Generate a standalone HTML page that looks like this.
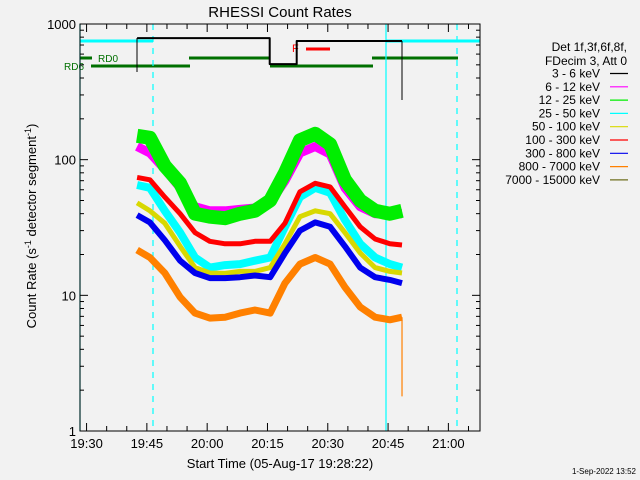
<!DOCTYPE html>
<html><head><meta charset="utf-8"><style>
html,body{margin:0;padding:0;background:#f2f2f2}
svg{display:block;font-family:"Liberation Sans",sans-serif}
</style></head><body>
<svg id="chart" width="640" height="480" viewBox="0 0 640 480">
<rect width="640" height="480" fill="#f2f2f2"/>
<text x="280" y="17" font-size="15" text-anchor="middle">RHESSI Count Rates</text>
<text transform="translate(36,226) rotate(-90)" font-size="13" text-anchor="middle">Count Rate (s<tspan font-size="9" dy="-5">-1</tspan><tspan dy="5"> detector segment</tspan><tspan font-size="9" dy="-5">-1</tspan><tspan dy="5">)</tspan></text>
<text x="280" y="468" font-size="13" text-anchor="middle">Start Time (05-Aug-17 19:28:22)</text>
<text x="636" y="474" font-size="8" text-anchor="end">1-Sep-2022 13:52</text>
<g id="plot"></g>
<g id="axes"></g>
<g id="legend"></g>
</svg>
<script>
// minutes since 19:28:22
const times = [14.2,17.4,21.1,24.9,28.6,32.3,36.1,39.8,43.5,47.3,51.0,54.7,58.5,62.2,65.9,69.7,73.4,77.1,80.1];
const magenta = [125,112,85,62,45,42,42,43,44,48,70,112,125,110,62,45,40,40,40];
const green = [150,145,90,67,40,38,37,40,42,50,80,139,155,130,71,50,42,40,42];
const cyan = [65,62,42,29,19,16,16.7,17,18,19,32,53,62,57,36,24,19,17,16];
const yellow = [48,42,34,23,16,14.6,14.5,15,15,16,24,38,42,40,29,20.5,16,15,14.6];
const red = [74,71,53,40,29,25,24,24,25,25,34,58,67,63,45,32,26,24,23.5];
const blue = [39,34.5,25.5,18,14.6,13.4,13.4,13.6,14,13.6,20.5,30,34.5,32,23,16,13.6,13,12.3];
const orange = [21.6,19,14.6,9.7,7.4,6.8,6.9,7.4,7.8,7.4,12.3,17,19,17,11.5,8.2,6.9,6.6,6.9];
const blackTimes = [14.2,47.2,47.2,53.9,53.9,80.1];
const blackVals = [787,787,506,506,750,750];
const xTickLabels = ["19:30","19:45","20:00","20:15","20:30","20:45","21:00"];
const xTickMinutes = [1.633,16.633,31.633,46.633,61.633,76.633,91.633];
const yTickVals = [1,10,100,1000];
const yTickLabels = ["1","10","100","1000"];
const legendLabels = ["3 - 6 keV","6 - 12 keV","12 - 25 keV","25 - 50 keV","50 - 100 keV","100 - 300 keV","300 - 800 keV","800 - 7000 keV","7000 - 15000 keV"];
const legendColors = ["#000000","#ff00ff","#00ee00","#00ffff","#d8d800","#ff0000","#0000ee","#ff8000","#707020"];

const X0=80,X1=480,Y0=24,Y1=431,TMAX=99.5;
const NS="http://www.w3.org/2000/svg";
function xs(t){return X0+(X1-X0)*t/TMAX;}
function ys(v){return Y1-(Y1-Y0)*Math.log10(v)/3;}
function mk(tag,attrs,parent){const e=document.createElementNS(NS,tag);for(const k in attrs)e.setAttribute(k,attrs[k]);parent.appendChild(e);return e;}
const plot=document.getElementById('plot'),axes=document.getElementById('axes'),legend=document.getElementById('legend');

// instrument state lines
let e;
e=mk('line',{x1:80,y1:41,x2:153,y2:41,stroke:'#00ffff','stroke-width':3},plot);


e=mk('line',{x1:386,y1:41,x2:480,y2:41,stroke:'#00ffff','stroke-width':3},plot);


[[80,92,58],[189,270,58],[372,458,58],[91,190,66],[270,373,66]].forEach(s=>{
  const l=mk('line',{x1:s[0],y1:s[2],x2:s[1],y2:s[2],stroke:'#007000','stroke-width':3},plot);
  
  
});
e=mk('text',{x:98,y:62,'font-size':10,fill:'#007000'},plot);e.textContent='RD0';


e=mk('text',{x:64,y:70,'font-size':10,fill:'#007000'},plot);e.textContent='RD6';


e=mk('text',{x:292,y:52,'font-size':11,fill:'#ff0000'},plot);e.textContent='F';


e=mk('line',{x1:306,y1:49,x2:330,y2:49,stroke:'#ff0000','stroke-width':3},plot);



// vertical markers
[[80,false],[386,false],[153,true],[457,true]].forEach(v=>{
  const l=mk('line',{x1:v[0],y1:Y0,x2:v[0],y2:Y1,stroke:'#00ffff','stroke-width':1.2},plot);
  if(v[1])l.setAttribute('stroke-dasharray','6,6');
  
  
});
[[137,38,72],[402,41,100]].forEach(v=>{
  const l=mk('line',{x1:v[0],y1:v[1],x2:v[0],y2:v[2],stroke:'#000','stroke-width':1},plot);
  
  
});

function series(vals,color,w,name,tt){
  tt=tt||times;
  const d=vals.map((v,i)=>(i?'L':'M')+xs(tt[i]).toFixed(1)+','+ys(v).toFixed(1)).join(' ');
  const p=mk('path',{d:d,fill:'none',stroke:color,'stroke-width':w,'stroke-linejoin':'round'},plot);
  
  
}
series(blackVals,'#000',2,'series-3-6kev',blackTimes);
series(magenta,'#ff00ff',9,'series-6-12kev');
series(green,'#00ee00',14,'series-12-25kev');
series(cyan,'#00ffff',8,'series-25-50kev');
series(yellow,'#d8d800',5,'series-50-100kev');
series(red,'#ff0000',5,'series-100-300kev');
series(blue,'#0000ee',6,'series-300-800kev');
series(orange,'#ff8000',7,'series-800-7000kev');
e=mk('line',{x1:xs(80.1),y1:ys(6.9),x2:xs(80.1),y2:ys(1.8),stroke:'#ff8000','stroke-width':1.2},plot);



// axes box
e=mk('rect',{x:X0,y:Y0,width:X1-X0,height:Y1-Y0,fill:'none',stroke:'#000','stroke-width':1},axes);


// x ticks every 5 minutes
for(let m=1.633;m<TMAX;m+=5){
  const x=xs(m);const major=Math.abs(((m-1.633)/15)-Math.round((m-1.633)/15))<0.01;const L=major?8:5;
  mk('line',{x1:x,y1:Y1,x2:x,y2:Y1-L,stroke:'#000'},axes);
  mk('line',{x1:x,y1:Y0,x2:x,y2:Y0+L,stroke:'#000'},axes);
}
xTickLabels.forEach((lab,i)=>{
  const t=mk('text',{x:xs(xTickMinutes[i]),y:448,'font-size':13,'text-anchor':'middle'},axes);t.textContent=lab;
  
  
});
// y ticks
for(let d=0;d<3;d++)for(let k=1;k<=10;k++){
  const v=k*Math.pow(10,d);if(k===10&&d<2)continue;
  const y=ys(v);const L=(k===1||k===10)?8:4;
  mk('line',{x1:X0,y1:y,x2:X0+L,y2:y,stroke:'#000'},axes);
  mk('line',{x1:X1,y1:y,x2:X1-L,y2:y,stroke:'#000'},axes);
}
yTickVals.forEach((v,i)=>{
  const t=mk('text',{x:76,y:ys(v)+5,'font-size':13,'text-anchor':'end'},axes);t.textContent=yTickLabels[i];
  
  
});
// legend
[["Det 1f,3f,6f,8f,",51],["FDecim 3, Att 0",65]].forEach(h=>{
  const t=mk('text',{x:627,y:h[1],'font-size':12,'text-anchor':'end'},legend);t.textContent=h[0];
  
  
});
legendLabels.forEach((lab,i)=>{
  const y=73.5+i*13.3;
  const t=mk('text',{x:600,y:y+4,'font-size':12,'text-anchor':'end'},legend);t.textContent=lab;
  
  
  const l=mk('line',{x1:610,y1:y,x2:628,y2:y,stroke:legendColors[i],'stroke-width':1.2},legend);
  
  
});
</script>
</body></html>
